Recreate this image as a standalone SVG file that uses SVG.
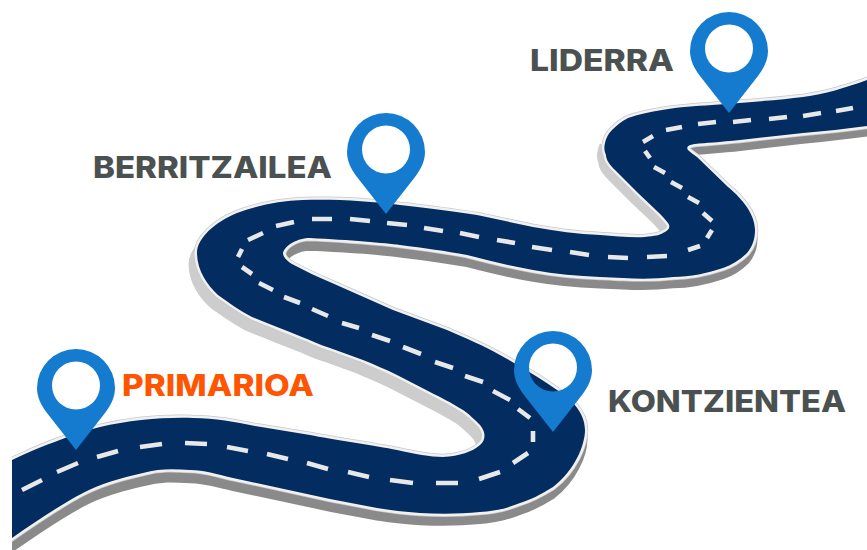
<svg xmlns="http://www.w3.org/2000/svg" width="867" height="550" viewBox="0 0 867 550">
<style>
.lbl{font-family:"Inter","Liberation Sans",Arial,sans-serif;font-weight:800;font-size:30px;fill:#4b5151}
.pin{fill:#147bcf;fill-rule:evenodd}
.dash{fill:none;stroke:#e8e8e8;stroke-width:4.600}
</style>
<defs>
<path id="road" d="M12 460C35 449 70 435 100 427C130 420 165 417 193 418C215 418 235 422 255 426L310 435C330 439 377 446 397 450C415 454 430 457 443 457C460 456 472 452 480 445C486 440 486 432 480 425C474 419 470 415 463 410C450 402 440 397 430 392L397 375C385 369 375 365 363 360L330 348C320 345 310 340 302 337C285 330 268 324 252 317C240 311 228 302 218 295C207 285 197 270 197 253C197 238 215 222 237 213C258 205 280 201 303 200C335 199 370 201 400 205C430 208 455 212 477 215L533 227C555 231 578 234 600 235C615 236 632 238 645 237C655 236 660 235 663 233C669 230 671 227 668 223C665 219 662 216 658 212L638 193L615 170C610 165 606 160 606 155C604 150 604 147 605 143C606 138 608 134 612 130C617 125 622 121 628 118C640 114 650 112 662 110C680 107 695 106 712 105C750 102 780 100 803 97C825 94 845 88 867 80L867 126C845 129 825 131 803 133L740 140C720 142 705 143 695 144C688 145 686 147 688 150C690 152 693 154 697 157L728 187C738 195 755 212 755 230C755 240 752 247 747 253C740 260 732 265 723 268C708 273 690 277 673 277C655 279 640 279 623 278C615 278 608 277 600 277C578 276 555 274 533 270C510 266 490 261 467 255C445 251 425 248 400 245C385 243 350 240 310 238C298 238 285 245 283 253C283 257 287 261 292 264C305 271 318 277 332 283L393 310L447 330C465 338 485 346 500 355C520 366 545 381 557 390C570 398 585 412 585 430C585 445 575 470 553 487C540 495 530 500 520 503C505 509 495 511 480 512C460 514 440 514 420 513C405 512 390 510 377 508L330 499L233 478C215 474 205 470 190 470C175 469 160 468 143 473C120 478 100 484 83 493C60 505 35 522 12 538Z"/>
<clipPath id="page"><rect x="12" y="0" width="855" height="550"/></clipPath>
<clipPath id="lightA"><polygon points="170,230 225,240 510,410 510,470 400,470 170,310"/></clipPath>
<clipPath id="lightB"><polygon points="585,140 625,150 690,225 670,262 585,200"/></clipPath>
<path id="pinShape" d="M0 101L-29 64C-35 56 -39 48 -39 39A39 39 0 0 1 39 39C39 48 35 56 29 64ZM24 36.500A24 24 0 1 0 -24 36.500A24 24 0 1 0 24 36.500Z"/>
</defs>
<g id="connectors">
<g clip-path="url(#page)">
<g transform="matrix(1,-0.004,0,1,0,11.500)">
<use href="#road" fill="#8a8a8a" stroke="#8a8a8a" stroke-width="5"/>
</g>
<g clip-path="url(#lightA)"><g transform="translate(-6,11)"><use href="#road" fill="#cdcdcd" stroke="#cdcdcd" stroke-width="5"/></g></g>
<g clip-path="url(#lightB)"><g transform="translate(-5,8)"><use href="#road" fill="#cdcdcd" stroke="#cdcdcd" stroke-width="5"/></g></g>
<use href="#road" fill="#c8c8c8" stroke="#c8c8c8" stroke-width="6.500"/>
<use href="#road" fill="#f1f1f1" stroke="#f1f1f1" stroke-width="5"/>
<use href="#road" fill="#032c60"/>
</g>
<path class="dash" d="M22 490L42 480M57 472L78 463M97 457L118 451M140 447L162 444M185 443L207 444M227 447L248 451M267 454L288 459M307 463L328 469M348 472L369 477M390 480L413 483M436 483L458 483M479 479L500 472M513 463L528 453M533 442L533 431M530 418L518 409M510 400L493 391M483 382L465 376M453 368L435 362M421 354L403 347M390 341L372 335M359 328L342 323M328 316L312 309M300 303L284 297M273 290L259 283M252 274L242 267M238 257L242 249M248 240L263 233M276 226L294 222M312 219L332 219M350 219L370 221M387 223L407 225M424 228L443 231M460 233L479 237M497 240L515 243M532 247L552 250M570 252L589 255M608 257L628 258M647 257L667 256M688 250L700 246M707 238L712 230M712 221L703 213M699 203L688 197M682 188L671 182M665 173L654 167M650 158L645 151M643 142L653 136M666 130L682 127M698 124L716 122M733 122L751 120M769 119L787 117M803 116L821 113M836 111L853 108"/>
</g>
<g id="primarioa">
<use href="#pinShape" class="pin" x="76" y="349"/>
<text class="lbl" x="122" y="396" textLength="192" lengthAdjust="spacingAndGlyphs" style="fill:#ff5500">PRIMARIOA</text>
</g>
<g id="berritzailea">
<use href="#pinShape" class="pin" x="386" y="113"/>
<text class="lbl" x="93" y="178" textLength="239" lengthAdjust="spacingAndGlyphs">BERRITZAILEA</text>
</g>
<g id="kontzientea">
<use href="#pinShape" class="pin" x="553" y="331"/>
<text class="lbl" x="608" y="412" textLength="238" lengthAdjust="spacingAndGlyphs">KONTZIENTEA</text>
</g>
<g id="liderra">
<use href="#pinShape" class="pin" x="729" y="12"/>
<text class="lbl" x="530" y="71" textLength="144" lengthAdjust="spacingAndGlyphs">LIDERRA</text>
</g>
</svg>
